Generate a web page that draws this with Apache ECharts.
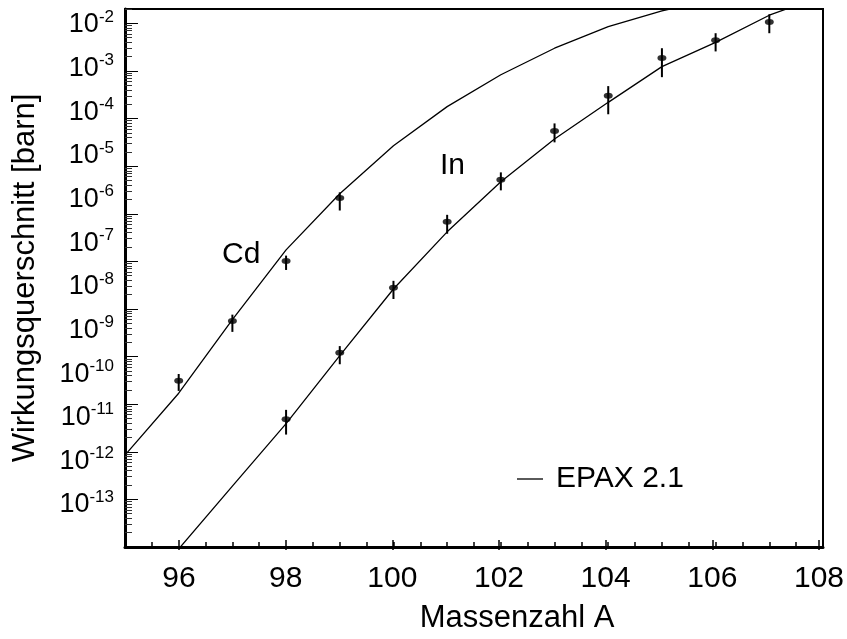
<!DOCTYPE html>
<html lang="de">
<head>
	<meta charset="UTF-8">
	<title>Wirkungsquerschnitt</title>
	<script type="text/javascript" src="https://cdn.jsdelivr.net/npm/echarts@6/dist/echarts.min.js"></script>
	<style>
		html, body { margin: 0; padding: 0; background: #fff; }
		#main { width: 847px; height: 639px; }
	</style>
</head>
<body>
	<div id="main"></div>
	<script type="text/javascript">
		// EPAX 2.1 Rechnung (Stuetzpunkte je Massenzahl)
		var cdCurveMass = [95, 96, 97, 98, 99, 100, 101, 102, 103, 104, 105, 106, 107, 108];
		var cdCurve = [8.5e-12, 1.7e-10, 6.0e-9, 1.74e-7, 2.63e-6, 2.69e-5, 1.78e-4, 8.3e-4, 3.0e-3, 8.5e-3, 1.82e-2, 3.24e-2, 5.5e-2, 8.9e-2];
		var inCurveMass = [96, 97, 98, 99, 100, 101, 102, 103, 104, 105, 106, 107, 108];
		var inCurve = [9.1e-14, 1.9e-12, 3.9e-11, 1.05e-9, 2.63e-8, 4.17e-7, 4.68e-6, 3.72e-5, 2.19e-4, 1.23e-3, 3.98e-3, 1.48e-2, 3.8e-2];

		// Messpunkte mit Fehlerbalken
		var cdMass = [96, 97, 98, 99];
		var cdVal = [3.1e-10, 5.6e-9, 1.02e-7, 2.14e-6];
		var cdLow = [1.9e-10, 3.3e-9, 6.6e-8, 1.17e-6];
		var cdHigh = [4.3e-10, 7.6e-9, 1.32e-7, 2.82e-6];
		var inMass = [98, 99, 100, 101, 102, 103, 104, 105, 106, 107];
		var inVal = [4.8e-11, 1.2e-9, 2.8e-8, 6.8e-7, 5.2e-6, 5.5e-5, 3.0e-4, 1.86e-3, 4.4e-3, 1.07e-2];
		var inLow = [2.3e-11, 6.9e-10, 1.62e-8, 3.8e-7, 3.1e-6, 3.16e-5, 1.23e-4, 7.4e-4, 2.57e-3, 6.2e-3];
		var inHigh = [7.6e-11, 1.66e-9, 3.9e-8, 9.5e-7, 7.4e-6, 7.9e-5, 4.8e-4, 3.0e-3, 6.2e-3, 1.55e-2];

		// Achsen
		var xLabels = [96, 98, 100, 102, 104, 106, 108];
		var yExponents = [-13, -12, -11, -10, -9, -8, -7, -6, -5, -4, -3, -2];
		var yMin = 1e-13, yMax = 0.02;

		var FONT = 'Liberation Sans, Arial, sans-serif';

		function zip(a, b) {
			var out = [];
			for (var i = 0; i < a.length; i++) out.push([a[i], b[i]]);
			return out;
		}
		var errData = [];
		[[cdMass, cdLow, cdHigh], [inMass, inLow, inHigh]].forEach(function (s) {
			for (var i = 0; i < s[0].length; i++) errData.push([s[0][i], s[1][i], s[2][i]]);
		});
		var pointData = zip(cdMass, cdVal).concat(zip(inMass, inVal));

		// kleine Striche 2..9 je Dekade (im Exponentenraum)
		var minorTicks = [];
		for (var n = -13; n <= -2; n++) {
			for (var k = 2; k <= 9; k++) {
				var e = n + Math.log10(k);
				if (e <= Math.log10(yMax)) minorTicks.push(e);
			}
		}

		var myChart = echarts.init(document.getElementById('main'));
		var option = {
			animation: false,
			backgroundColor: '#fff',
			textStyle: { fontFamily: FONT, color: '#000' },
			grid: [
				{ left: 125, right: 24, top: 9, bottom: 89, show: true, borderColor: '#000', borderWidth: 2 },
				{ left: 125, right: 24, top: 25, bottom: 134 },
				{ left: 179, right: 24, top: 9, bottom: 89 }
			],
			legend: {
				data: ['EPAX 2.1'],
				left: 517, top: 464, padding: 0,
				icon: 'rect', itemWidth: 26, itemHeight: 1.3,
				itemStyle: { color: '#000' },
				textStyle: { fontSize: 30, fontFamily: FONT, color: '#000', padding: [0, 0, 0, 8] }
			},
			xAxis: [
				{
					gridIndex: 0, type: 'value', min: 95, max: 108, interval: 0.5,
					name: 'Massenzahl A', nameLocation: 'middle', nameGap: 56,
					nameTextStyle: { fontSize: 31, fontFamily: FONT, color: '#000', padding: [0, 0, 0, 86] },
					axisLine: { lineStyle: { color: '#000', width: 3 } },
					axisTick: { inside: true, length: 5, lineStyle: { color: '#000', width: 1.5 } },
					axisLabel: { show: false },
					splitLine: { show: false }
				},
				{ gridIndex: 1, type: 'value', show: false },
				{
					gridIndex: 2, type: 'value', min: xLabels[0], max: xLabels[xLabels.length - 1], interval: 2,
					axisLine: { show: false },
					axisTick: { inside: true, length: 10, lineStyle: { color: '#000', width: 1.5 } },
					axisLabel: { fontSize: 30, fontFamily: FONT, color: '#000', margin: 14 },
					splitLine: { show: false }
				}
			],
			yAxis: [
				{
					gridIndex: 0, type: 'log', logBase: 10, min: yMin, max: yMax, position: 'left',
					name: 'Wirkungsquerschnitt [barn]', nameLocation: 'middle', nameGap: 84, nameRotate: 90,
					nameTextStyle: { fontSize: 31, fontFamily: FONT, color: '#000' },
					axisLine: { lineStyle: { color: '#000', width: 3 } },
					axisTick: { show: false },
					axisLabel: { show: false },
					splitLine: { show: false }
				},
				{
					gridIndex: 0, type: 'value', min: -13, max: Math.log10(yMax), interval: 1, position: 'left', offset: 0,
					axisLine: { show: false },
					axisTick: { inside: true, length: 13, lineStyle: { color: '#000', width: 1 } },
					axisLabel: { show: false },
					splitLine: { show: false }
				},
				{
					gridIndex: 0, type: 'value', min: -13, max: Math.log10(yMax), position: 'left', offset: 0,
					axisLine: { show: false },
					axisTick: { inside: true, length: 7, customValues: minorTicks, lineStyle: { color: '#333', width: 1 } },
					axisLabel: { show: false },
					splitLine: { show: false }
				},
				{
					gridIndex: 1, type: 'value', min: yExponents[0], max: yExponents[yExponents.length - 1], interval: 1,
					position: 'left',
					axisLine: { show: false },
					axisTick: { show: false },
					splitLine: { show: false },
					axisLabel: {
						margin: 11,
						formatter: function (v) {
							return '{b|10}{s|' + (v < 0 ? '-' : '') + Math.abs(v) + '}';
						},
						rich: {
							b: { fontSize: 27, lineHeight: 27, fontFamily: FONT, color: '#000' },
							s: { fontSize: 17, lineHeight: 17, fontFamily: FONT, color: '#000', padding: [0, 0, 16, 0] }
						}
					}
				},
				{ gridIndex: 2, type: 'value', show: false }
			],
			graphic: [
				{ type: 'text', left: 222, top: 240, style: { text: 'Cd', fontSize: 30, fontFamily: FONT, fill: '#000' } },
				{ type: 'text', left: 440, top: 151, style: { text: 'In', fontSize: 30, fontFamily: FONT, fill: '#000' } }
			],
			series: [
				{
					name: 'EPAX 2.1', type: 'line', xAxisIndex: 0, yAxisIndex: 0,
					data: zip(cdCurveMass, cdCurve), symbol: 'none', clip: true,
					lineStyle: { color: '#000', width: 1.3 }, itemStyle: { color: '#000' }
				},
				{
					name: 'EPAX 2.1', type: 'line', xAxisIndex: 0, yAxisIndex: 0,
					data: zip(inCurveMass, inCurve), symbol: 'none', clip: true,
					lineStyle: { color: '#000', width: 1.3 }, itemStyle: { color: '#000' }
				},
				{
					type: 'custom', xAxisIndex: 0, yAxisIndex: 0, data: errData,
					renderItem: function (params, api) {
						var lo = api.coord([api.value(0), api.value(1)]);
						var hi = api.coord([api.value(0), api.value(2)]);
						return {
							type: 'line',
							shape: { x1: lo[0], y1: lo[1], x2: hi[0], y2: hi[1] },
							style: { stroke: '#000', lineWidth: 2 }
						};
					}
				},
				{
					type: 'scatter', xAxisIndex: 0, yAxisIndex: 0, data: pointData,
					symbol: 'circle', symbolSize: [9, 6], itemStyle: { color: '#000' }
				}
			]
		};
		myChart.setOption(option);
	</script>
</body>
</html>
